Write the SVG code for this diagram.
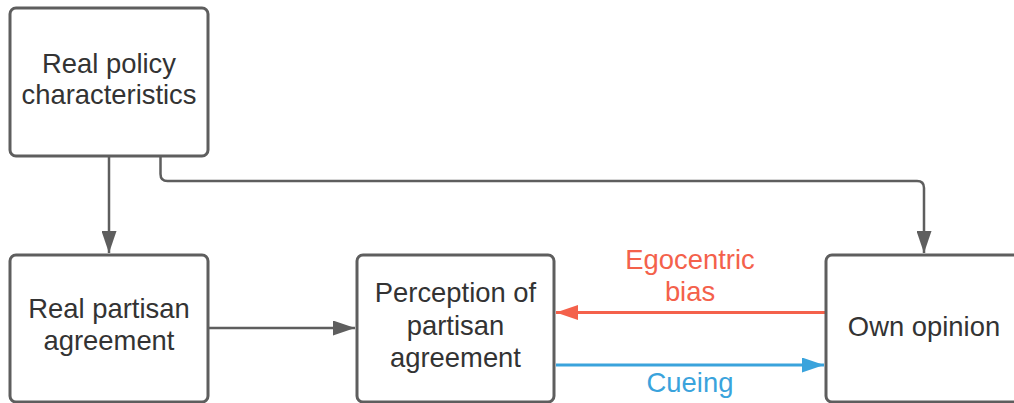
<svg xmlns="http://www.w3.org/2000/svg" width="1014" height="403" viewBox="0 0 1014 403">
<style>
.box{fill:#fff;stroke:#5e5e5e;stroke-width:3}
.t{font-family:"Liberation Sans",Arial,sans-serif;font-size:27.4px;fill:#333;text-anchor:middle}
.c{fill:none;stroke:#5e5e5e;stroke-width:2.5}
</style>
<defs>
<marker id="ag" markerWidth="22" markerHeight="15" refX="22" refY="7.5" orient="auto" markerUnits="userSpaceOnUse" viewBox="0 0 22 15"><path d="M0,0 L22,7.5 L0,15 Z" fill="#5e5e5e"/></marker>
<marker id="ar" markerWidth="22" markerHeight="15" refX="22" refY="7.5" orient="auto" markerUnits="userSpaceOnUse" viewBox="0 0 22 15"><path d="M0,0 L22,7.5 L0,15 Z" fill="#f4614b"/></marker>
<marker id="ab" markerWidth="22" markerHeight="15" refX="22" refY="7.5" orient="auto" markerUnits="userSpaceOnUse" viewBox="0 0 22 15"><path d="M0,0 L22,7.5 L0,15 Z" fill="#3aa3dc"/></marker>
</defs>
<rect width="1014" height="403" fill="#fff"/>
<g id="connectors">
<path class="c" d="M109,156 V253" marker-end="url(#ag)"/>
<path class="c" d="M160.5,156 V174 Q160.5,181 167.5,181 H917 Q924,181 924,188 V253" marker-end="url(#ag)"/>
<path class="c" d="M208,328 H355" marker-end="url(#ag)"/>
<path d="M826,312.5 H556" fill="none" stroke="#f4614b" stroke-width="3" marker-end="url(#ar)"/>
<path d="M556,365 H824" fill="none" stroke="#3aa3dc" stroke-width="3" marker-end="url(#ab)"/>
<text class="t" x="690" y="269" style="fill:#f4614b">Egocentric</text>
<text class="t" x="690" y="301" style="fill:#f4614b">bias</text>
<text class="t" x="690" y="392" style="fill:#3aa3dc">Cueing</text>
</g>
<g id="n1">
<rect class="box" x="10" y="8" width="198" height="148" rx="6"/>
<text class="t" x="109" y="72.5">Real policy</text>
<text class="t" x="109" y="103.5">characteristics</text>
</g>
<g id="n2">
<rect class="box" x="10" y="255" width="198" height="147" rx="6"/>
<text class="t" x="109" y="318">Real partisan</text>
<text class="t" x="109" y="350">agreement</text>
</g>
<g id="n3">
<rect class="box" x="357" y="255" width="197" height="147" rx="6"/>
<text class="t" x="455.5" y="302">Perception of</text>
<text class="t" x="455.5" y="335">partisan</text>
<text class="t" x="455.5" y="367">agreement</text>
</g>
<g id="n4">
<rect class="box" x="826" y="255" width="198" height="147" rx="6"/>
<text class="t" x="924" y="336">Own opinion</text>
</g>
</svg>
